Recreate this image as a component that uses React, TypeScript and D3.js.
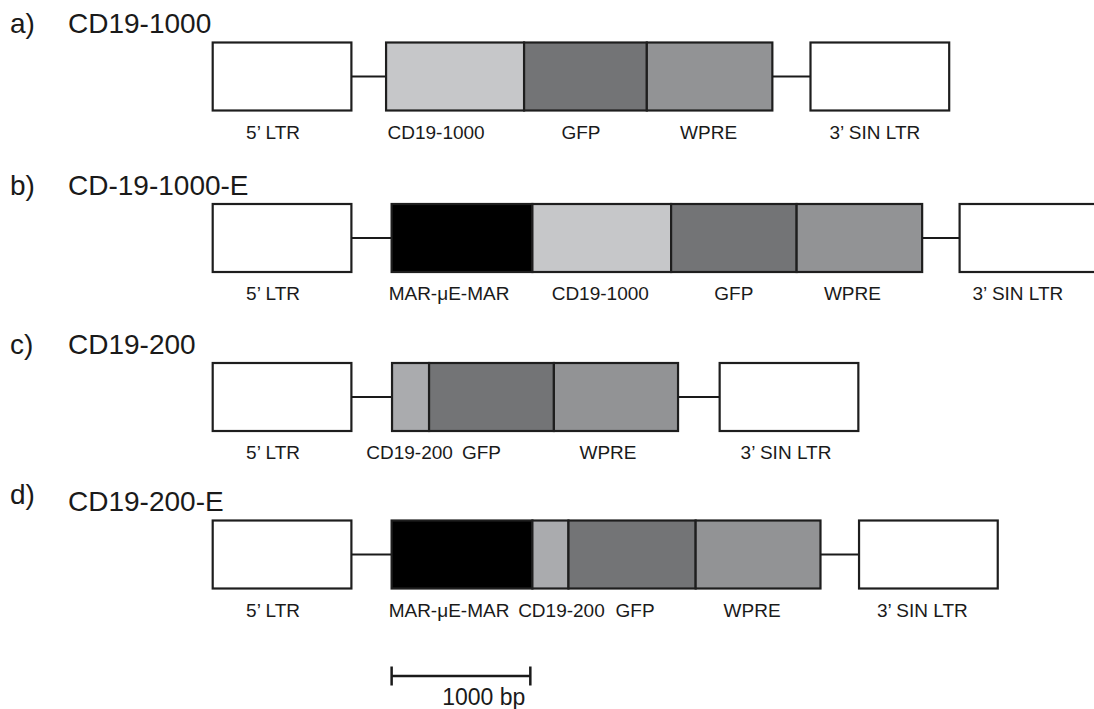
import React from "react";
import * as d3 from "d3";

// ---------- data ----------
const constructTags = ["a)", "b)", "c)", "d)"];
const constructNames = ["CD19-1000", "CD-19-1000-E", "CD19-200", "CD19-200-E"];

// "-" marks a linker (thin line between boxes); lengths in bp
const elementsA = ["5’ LTR", "-", "CD19-1000", "GFP", "WPRE", "-", "3’ SIN LTR"];
const lengthsA = [1000, 250, 995, 885, 905, 275, 1000];

const elementsB = ["5’ LTR", "-", "MAR-μE-MAR", "CD19-1000", "GFP", "WPRE", "-", "3’ SIN LTR"];
const lengthsB = [1000, 290, 1015, 1000, 905, 905, 270, 1000];

const elementsC = ["5’ LTR", "-", "CD19-200", "GFP", "WPRE", "-", "3’ SIN LTR"];
const lengthsC = [1000, 293, 267, 900, 895, 300, 1000];

const elementsD = ["5’ LTR", "-", "MAR-μE-MAR", "CD19-200", "GFP", "WPRE", "-", "3’ SIN LTR"];
const lengthsD = [1000, 290, 1015, 260, 917, 900, 278, 1000];

const scaleBarBp = 1000;
const scaleBarStartBp = 1290;
const scaleBarLabel = "1000 bp";

// ---------- layout / style ----------
const W = 1094;
const H = 709;
const X0 = 212.7;
const PX_PER_1000 = 138.7;
const ROW_TOPS = [42.5, 204, 363, 520.5];
const BOX_H = 68;
const FONT = "'Liberation Sans', Arial, Helvetica, sans-serif";

const FILL: Record<string, string> = {
  "5’ LTR": "#ffffff",
  "3’ SIN LTR": "#ffffff",
  "MAR-μE-MAR": "#000000",
  "CD19-1000": "#c6c7c9",
  "CD19-200": "#aaabae",
  GFP: "#737476",
  WPRE: "#929395",
};

const LABEL_NUDGE = [
  [-9, 0, -19, -4.5, -1, 0, -5],
  [-9, 0, -13, -1.5, 0, -7, 0, -11],
  [-9, 0, -1, -10, -8, 0, -3],
  [-9, 0, -13, 11, 3, -6, 0, -6],
];
const TAG_DY = [0, 0, 0, -7];

const constructs = [
  { els: elementsA, lens: lengthsA },
  { els: elementsB, lens: lengthsB },
  { els: elementsC, lens: lengthsC },
  { els: elementsD, lens: lengthsD },
];

export default function App() {
  const x = d3
    .scaleLinear()
    .domain([0, 1000])
    .range([X0, X0 + PX_PER_1000]);

  const rows = constructs.map((c, ri) => {
    const ends = d3.cumsum(c.lens);
    const top = ROW_TOPS[ri];
    const mid = top + BOX_H / 2;
    const items = c.els.map((name, i) => {
      const start = i === 0 ? 0 : ends[i - 1];
      const end = ends[i];
      const x1 = x(start);
      const x2 = x(end);
      if (name === "-") {
        return (
          <line
            key={i}
            x1={x1}
            x2={x2}
            y1={mid}
            y2={mid}
            stroke="#1a1a1a"
            strokeWidth={2}
          />
        );
      }
      return (
        <rect
          key={i}
          x={x1}
          y={top}
          width={x2 - x1}
          height={BOX_H}
          fill={FILL[name]}
          stroke="#1e1e1e"
          strokeWidth={2.2}
        />
      );
    });
    const labels = c.els.map((name, i) => {
      if (name === "-") return null;
      const start = i === 0 ? 0 : ends[i - 1];
      const end = ends[i];
      const cx = (x(start) + x(end)) / 2 + LABEL_NUDGE[ri][i];
      return (
        <text
          key={"l" + i}
          x={cx}
          y={top + BOX_H + 28}
          textAnchor="middle"
          fontSize={19}
          fill="#1a1a1a"
          fontFamily={FONT}
        >
          {name}
        </text>
      );
    });
    return (
      <g key={ri}>
        <text
          x={10}
          y={top - 9.5 + TAG_DY[ri]}
          fontSize={28}
          fill="#1a1a1a"
          fontFamily={FONT}
        >
          {constructTags[ri]}
        </text>
        <text x={68} y={top - 9.5} fontSize={28} fill="#1a1a1a" fontFamily={FONT}>
          {constructNames[ri]}
        </text>
        {items}
        {labels}
      </g>
    );
  });

  const sb1 = x(scaleBarStartBp);
  const sb2 = x(scaleBarStartBp + scaleBarBp);
  const sbY = 676;

  return (
    <svg
      width={W}
      height={H}
      viewBox={`0 0 ${W} ${H}`}
      style={{ position: "absolute", left: 0, top: 0, background: "#fff", overflow: "hidden" }}
    >
      <rect x={0} y={0} width={W} height={H} fill="#fff" />
      {rows}
      <g stroke="#1a1a1a" strokeWidth={2.5}>
        <line x1={sb1} x2={sb2} y1={sbY} y2={sbY} />
        <line x1={sb1} x2={sb1} y1={sbY - 9.5} y2={sbY + 9.5} />
        <line x1={sb2} x2={sb2} y1={sbY - 9.5} y2={sbY + 9.5} />
      </g>
      <text
        x={sb2 - 5}
        y={705}
        textAnchor="end"
        fontSize={23}
        fill="#1a1a1a"
        fontFamily={FONT}
      >
        {scaleBarLabel}
      </text>
    </svg>
  );
}
